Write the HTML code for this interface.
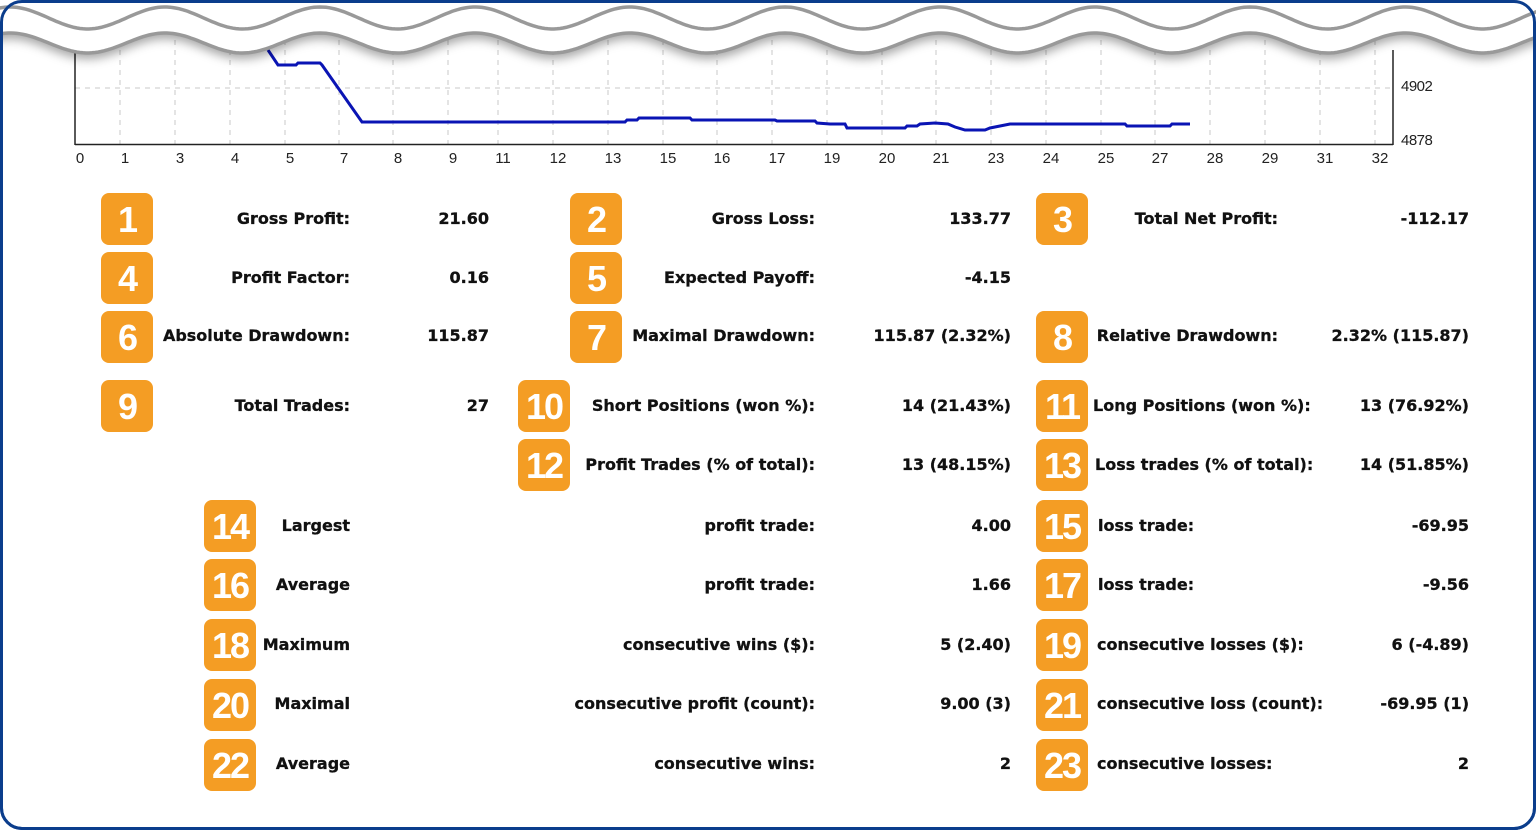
<!DOCTYPE html>
<html><head><meta charset="utf-8">
<style>
html,body{margin:0;padding:0;width:1536px;height:830px;overflow:hidden;background:#fff;}
#frame{position:absolute;left:0;top:0;width:1530px;height:824px;border:3px solid #0b3d8c;border-radius:22px;overflow:hidden;background:#fff;}
#over{position:absolute;left:0;top:0;width:1530px;height:824px;border:3px solid #0b3d8c;border-radius:22px;background:transparent;}
svg{position:absolute;left:0;top:0;}
.b{position:absolute;width:52px;height:52px;background:#f49d24;border-radius:8px;color:#fff;font:bold 36px "Liberation Sans",sans-serif;text-align:center;line-height:54px;letter-spacing:-2px;}
.t{position:absolute;font:bold 16px "DejaVu Sans",Verdana,sans-serif;color:#111;white-space:nowrap;line-height:20px;-webkit-text-stroke:0.3px #111;}
.r{text-align:right;}
</style></head><body>
<div id="frame"></div>
<svg width="1536" height="180" id="ch" xmlns="http://www.w3.org/2000/svg">
<defs><filter id="sh" x="-5%" y="-50%" width="110%" height="300%"><feDropShadow dx="0" dy="6" stdDeviation="5" flood-color="#000" flood-opacity="0.35"/></filter></defs>
<g id="grid" stroke="#c8c8c8" stroke-dasharray="5,5" stroke-width="1"></g>
<line x1="75" y1="88" x2="1393" y2="88" stroke="#c8c8c8" stroke-dasharray="5,5"/>
<polyline fill="none" stroke="#0a14b4" stroke-width="3" points="268,50 278,65 296,65 298,63 320,63 322,65 362,122 625,122 627,120 637,120 639,118 690,118 692,120 775,120 777,121 815,121 817,123 830,124 845,124 847,128 905,128 907,126 917,126 920,124 935,123 948,124 955,127 965,130 985,130 990,128 1000,126 1010,124 1125,124 1127,126 1170,126 1172,124 1190,124"/>
<line x1="75" y1="50" x2="75" y2="145" stroke="#222" stroke-width="1.5"/>
<line x1="75" y1="144.5" x2="1393" y2="144.5" stroke="#222" stroke-width="1.5"/>
<line x1="1393" y1="50" x2="1393" y2="145" stroke="#222" stroke-width="1.5"/>
<g id="xl" font-family="Liberation Sans Narrow, Liberation Sans, sans-serif" font-size="15" fill="#222" text-anchor="middle"></g>
<text x="1401" y="91" font-family="Liberation Sans Narrow, Liberation Sans, sans-serif" font-size="15" fill="#222" letter-spacing="-0.5">4902</text>
<text x="1401" y="145" font-family="Liberation Sans Narrow, Liberation Sans, sans-serif" font-size="15" fill="#222" letter-spacing="-0.5">4878</text>
<g filter="url(#sh)"><path id="fillw" fill="#fff" stroke="none"/></g>
<path id="w1" fill="none" stroke="#999" stroke-width="3.5"/>
<path id="w2" fill="none" stroke="#999" stroke-width="3.5"/>
</svg>
<div id="over"></div>

<div class="b" style="left:101px;top:193px">1</div>
<div class="t r" style="right:1186px;top:209px">Gross Profit:</div>
<div class="t r" style="right:1047px;top:209px">21.60</div>
<div class="b" style="left:570px;top:193px">2</div>
<div class="t r" style="right:721px;top:209px">Gross Loss:</div>
<div class="t r" style="right:525px;top:209px">133.77</div>
<div class="b" style="left:1036px;top:193px">3</div>
<div class="t r" style="right:258px;top:209px">Total Net Profit:</div>
<div class="t r" style="right:67px;top:209px">-112.17</div>

<div class="b" style="left:101px;top:252px">4</div>
<div class="t r" style="right:1186px;top:268px">Profit Factor:</div>
<div class="t r" style="right:1047px;top:268px">0.16</div>
<div class="b" style="left:570px;top:252px">5</div>
<div class="t r" style="right:721px;top:268px">Expected Payoff:</div>
<div class="t r" style="right:525px;top:268px">-4.15</div>

<div class="b" style="left:101px;top:311px">6</div>
<div class="t r" style="right:1186px;top:326px">Absolute Drawdown:</div>
<div class="t r" style="right:1047px;top:326px">115.87</div>
<div class="b" style="left:570px;top:311px">7</div>
<div class="t r" style="right:721px;top:326px">Maximal Drawdown:</div>
<div class="t r" style="right:525px;top:326px">115.87 (2.32%)</div>
<div class="b" style="left:1036px;top:311px">8</div>
<div class="t r" style="right:258px;top:326px">Relative Drawdown:</div>
<div class="t r" style="right:67px;top:326px">2.32% (115.87)</div>

<div class="b" style="left:101px;top:380px">9</div>
<div class="t r" style="right:1186px;top:396px">Total Trades:</div>
<div class="t r" style="right:1047px;top:396px">27</div>
<div class="b" style="left:518px;top:380px">10</div>
<div class="t r" style="right:721px;top:396px">Short Positions (won %):</div>
<div class="t r" style="right:525px;top:396px">14 (21.43%)</div>
<div class="b" style="left:1036px;top:380px">11</div>
<div class="t" style="left:1093px;top:396px">Long Positions (won %):</div>
<div class="t r" style="right:67px;top:396px">13 (76.92%)</div>

<div class="b" style="left:518px;top:439px">12</div>
<div class="t r" style="right:721px;top:455px">Profit Trades (% of total):</div>
<div class="t r" style="right:525px;top:455px">13 (48.15%)</div>
<div class="b" style="left:1036px;top:439px">13</div>
<div class="t" style="left:1095px;top:455px">Loss trades (% of total):</div>
<div class="t r" style="right:67px;top:455px">14 (51.85%)</div>

<div class="b" style="left:204px;top:500px">14</div>
<div class="t r" style="right:1186px;top:516px">Largest</div>
<div class="t r" style="right:721px;top:516px">profit trade:</div>
<div class="t r" style="right:525px;top:516px">4.00</div>
<div class="b" style="left:1036px;top:500px">15</div>
<div class="t" style="left:1098px;top:516px">loss trade:</div>
<div class="t r" style="right:67px;top:516px">-69.95</div>

<div class="b" style="left:204px;top:559px">16</div>
<div class="t r" style="right:1186px;top:575px">Average</div>
<div class="t r" style="right:721px;top:575px">profit trade:</div>
<div class="t r" style="right:525px;top:575px">1.66</div>
<div class="b" style="left:1036px;top:559px">17</div>
<div class="t" style="left:1098px;top:575px">loss trade:</div>
<div class="t r" style="right:67px;top:575px">-9.56</div>

<div class="b" style="left:204px;top:619px">18</div>
<div class="t r" style="right:1186px;top:635px">Maximum</div>
<div class="t r" style="right:721px;top:635px">consecutive wins ($):</div>
<div class="t r" style="right:525px;top:635px">5 (2.40)</div>
<div class="b" style="left:1036px;top:619px">19</div>
<div class="t" style="left:1097px;top:635px">consecutive losses ($):</div>
<div class="t r" style="right:67px;top:635px">6 (-4.89)</div>

<div class="b" style="left:204px;top:679px">20</div>
<div class="t r" style="right:1186px;top:694px">Maximal</div>
<div class="t r" style="right:721px;top:694px">consecutive profit (count):</div>
<div class="t r" style="right:525px;top:694px">9.00 (3)</div>
<div class="b" style="left:1036px;top:679px">21</div>
<div class="t" style="left:1097px;top:694px">consecutive loss (count):</div>
<div class="t r" style="right:67px;top:694px">-69.95 (1)</div>

<div class="b" style="left:204px;top:739px">22</div>
<div class="t r" style="right:1186px;top:754px">Average</div>
<div class="t r" style="right:721px;top:754px">consecutive wins:</div>
<div class="t r" style="right:525px;top:754px">2</div>
<div class="b" style="left:1036px;top:739px">23</div>
<div class="t" style="left:1097px;top:754px">consecutive losses:</div>
<div class="t r" style="right:67px;top:754px">2</div>

<script>
var NS="http://www.w3.org/2000/svg";
var xs=[80,125,180,235,290,344,398,453,503,558,613,668,722,777,832,887,941,996,1051,1106,1160,1215,1270,1325,1380];
var lb=[0,1,3,4,5,7,8,9,11,12,13,15,16,17,19,20,21,23,24,25,27,28,29,31,32];
var g=document.getElementById('grid'),xl=document.getElementById('xl');
for(var i=0;i<xs.length;i++){
 if(i>0){var l=document.createElementNS(NS,'line');l.setAttribute('x1',xs[i]-5);l.setAttribute('x2',xs[i]-5);l.setAttribute('y1',40);l.setAttribute('y2',144);g.appendChild(l);}
 var t=document.createElementNS(NS,'text');t.setAttribute('x',xs[i]);t.setAttribute('y',163);t.textContent=lb[i];xl.appendChild(t);
}
function wave(c,a){var d='',P=155;for(var x=-10;x<=1550;x+=3){var y=c-a*Math.cos(2*Math.PI*(x-10)/P);d+=(x==-10?'M':'L')+x+' '+y.toFixed(1)+' ';}return d;}
document.getElementById('w1').setAttribute('d',wave(18,11));
var d2=wave(43,10);
document.getElementById('w2').setAttribute('d',d2);
document.getElementById('fillw').setAttribute('d',d2+'L1550 -10 L-10 -10 Z');
</script>
</body></html>
